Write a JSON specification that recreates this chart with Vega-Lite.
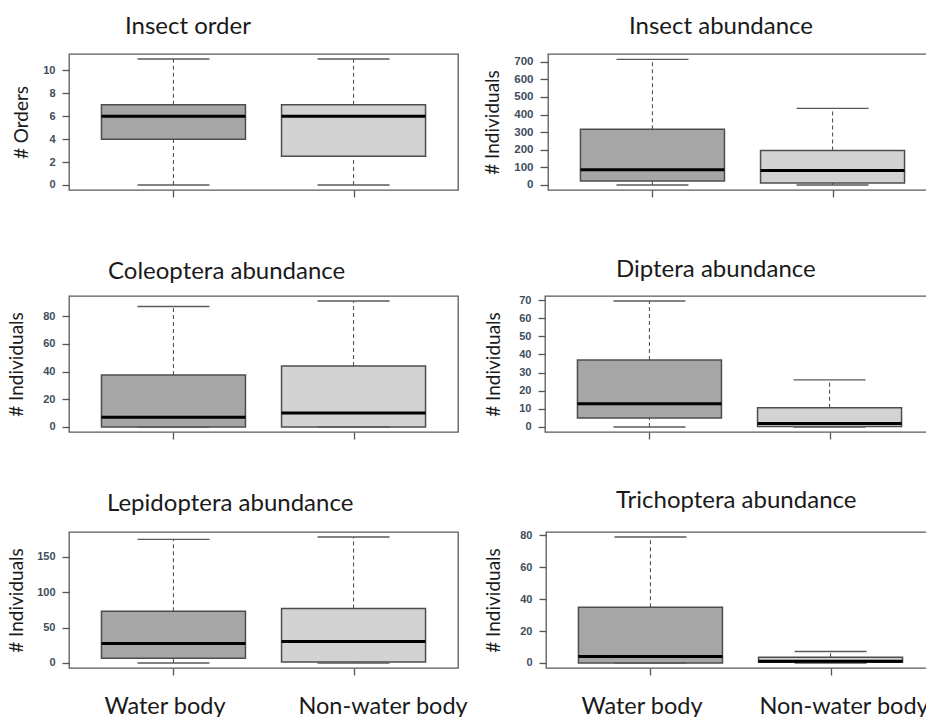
{
  "$schema": "https://vega.github.io/schema/vega-lite/v6.json",
  "background": "white",
  "padding": {"left": 6, "top": 14, "right": 0, "bottom": 0},
  "config": {
    "view": {"stroke": "#5a5a5a", "strokeWidth": 1.3},
    "font": "Lato",
    "axisY": {"labelOverlap": false, "labelFlush": false, "tickCount": 20, "format": "d"}
  },
  "datasets": {
    "box": [
      {"panel": "Insect order", "group": "Water body", "min": 0, "q1": 4, "median": 6, "q3": 7, "max": 11},
      {"panel": "Insect order", "group": "Non-water body", "min": 0, "q1": 2.5, "median": 6, "q3": 7, "max": 11},
      {"panel": "Insect abundance", "group": "Water body", "min": 0, "q1": 23, "median": 87, "q3": 317, "max": 713},
      {"panel": "Insect abundance", "group": "Non-water body", "min": 0, "q1": 11, "median": 82, "q3": 195, "max": 435},
      {"panel": "Coleoptera abundance", "group": "Water body", "min": 0, "q1": 0, "median": 7, "q3": 37.6, "max": 87},
      {"panel": "Coleoptera abundance", "group": "Non-water body", "min": 0, "q1": 0, "median": 10, "q3": 44, "max": 91},
      {"panel": "Diptera abundance", "group": "Water body", "min": 0, "q1": 5, "median": 12.8, "q3": 37, "max": 69.5},
      {"panel": "Diptera abundance", "group": "Non-water body", "min": 0, "q1": 0.2, "median": 1.9, "q3": 10.6, "max": 26},
      {"panel": "Lepidoptera abundance", "group": "Water body", "min": 0, "q1": 6.6, "median": 27.5, "q3": 73, "max": 174.7},
      {"panel": "Lepidoptera abundance", "group": "Non-water body", "min": 0, "q1": 1.4, "median": 30.4, "q3": 76.9, "max": 178},
      {"panel": "Trichoptera abundance", "group": "Water body", "min": 0, "q1": 0, "median": 4, "q3": 35, "max": 79},
      {"panel": "Trichoptera abundance", "group": "Non-water body", "min": 0, "q1": 0.5, "median": 1, "q3": 3.6, "max": 7.2}
    ]
  },
  "data": {"name": "box"},
  "align": "none",
  "vconcat": [
    {
      "align": "none",
      "vconcat": [
        {
          "hconcat": [
            {
              "width": 389, "height": 136,
              "title": {"text": "Insect order", "anchor": "start", "frame": "group", "dx": 56, "offset": -4, "baseline": "alphabetic", "font": "Lato", "fontSize": 24, "fontWeight": "normal", "color": "#1a1a1a"},
              "transform": [{"filter": "datum.panel == 'Insect order'"}],
              "encoding": {"x": {"field": "group", "type": "nominal", "sort": ["Water body", "Non-water body"], "scale": {"type": "point", "padding": 0.58}, "axis": {"title": null, "labels": false, "domain": false, "ticks": true, "tickSize": 7, "tickColor": "#555", "tickWidth": 1.3}}},
              "layer": [
                {"mark": {"type": "rule", "strokeDash": [4, 3], "color": "#555", "strokeWidth": 1.1}, "encoding": {"y": {"field": "min", "type": "quantitative", "title": "# Orders", "scale": {"domain": [-0.44, 11.44], "nice": false, "zero": false}, "axis": {"values": [0, 2, 4, 6, 8, 10], "format": "d", "tickCount": 20, "labelOverlap": false, "grid": false, "domain": false, "tickSize": 7, "tickColor": "#555", "tickWidth": 1.3, "labelPadding": 7, "labelFont": "Liberation Sans", "labelFontSize": 11, "labelFontWeight": "bold", "labelColor": "#3e4d5e", "minExtent": 30, "maxExtent": 30, "titlePadding": 8, "titleFont": "Lato", "titleFontSize": 19, "titleFontWeight": "normal", "titleColor": "#1a1a1a"}}, "y2": {"field": "q1"}}},
                {"mark": {"type": "rule", "strokeDash": [4, 3], "color": "#555", "strokeWidth": 1.1}, "encoding": {"y": {"field": "q3", "type": "quantitative", "title": "# Orders"}, "y2": {"field": "max"}}},
                {"mark": {"type": "bar", "width": 144, "stroke": "#4d4d4d", "strokeWidth": 1.5}, "encoding": {"y": {"field": "q1", "type": "quantitative", "title": "# Orders"}, "y2": {"field": "q3"}, "fill": {"field": "group", "type": "nominal", "scale": {"domain": ["Water body", "Non-water body"], "range": ["#a6a6a6", "#d3d3d3"]}, "legend": null}}},
                {"mark": {"type": "tick", "size": 72, "thickness": 1.4, "color": "#5a5a5a", "opacity": 1}, "encoding": {"y": {"field": "min", "type": "quantitative", "title": "# Orders"}}},
                {"mark": {"type": "tick", "size": 72, "thickness": 1.4, "color": "#5a5a5a", "opacity": 1}, "encoding": {"y": {"field": "max", "type": "quantitative", "title": "# Orders"}}},
                {"mark": {"type": "tick", "size": 144, "thickness": 3, "color": "#000000", "opacity": 1}, "encoding": {"y": {"field": "median", "type": "quantitative", "title": "# Orders"}}}
              ]
            },
            {
              "width": 389, "height": 136,
              "title": {"text": "Insect abundance", "anchor": "start", "frame": "group", "dx": 81, "offset": -4, "baseline": "alphabetic", "font": "Lato", "fontSize": 24, "fontWeight": "normal", "color": "#1a1a1a"},
              "transform": [{"filter": "datum.panel == 'Insect abundance'"}],
              "encoding": {"x": {"field": "group", "type": "nominal", "sort": ["Water body", "Non-water body"], "scale": {"type": "point", "padding": 0.58}, "axis": {"title": null, "labels": false, "domain": false, "ticks": true, "tickSize": 7, "tickColor": "#555", "tickWidth": 1.3}}},
              "layer": [
                {"mark": {"type": "rule", "strokeDash": [4, 3], "color": "#555", "strokeWidth": 1.1}, "encoding": {"y": {"field": "min", "type": "quantitative", "title": "# Individuals", "scale": {"domain": [-28.6, 743.6], "nice": false, "zero": false}, "axis": {"values": [0, 100, 200, 300, 400, 500, 600, 700], "format": "d", "tickCount": 20, "labelOverlap": false, "grid": false, "domain": false, "tickSize": 8, "tickColor": "#555", "tickWidth": 1.3, "labelPadding": 7, "labelFont": "Liberation Sans", "labelFontSize": 11.5, "labelFontWeight": "bold", "labelColor": "#3e4d5e", "minExtent": 30, "maxExtent": 30, "titlePadding": 16, "titleFont": "Lato", "titleFontSize": 19, "titleFontWeight": "normal", "titleColor": "#1a1a1a"}}, "y2": {"field": "q1"}}},
                {"mark": {"type": "rule", "strokeDash": [4, 3], "color": "#555", "strokeWidth": 1.1}, "encoding": {"y": {"field": "q3", "type": "quantitative", "title": "# Individuals"}, "y2": {"field": "max"}}},
                {"mark": {"type": "bar", "width": 144, "stroke": "#4d4d4d", "strokeWidth": 1.5}, "encoding": {"y": {"field": "q1", "type": "quantitative", "title": "# Individuals"}, "y2": {"field": "q3"}, "fill": {"field": "group", "type": "nominal", "scale": {"domain": ["Water body", "Non-water body"], "range": ["#a6a6a6", "#d3d3d3"]}, "legend": null}}},
                {"mark": {"type": "tick", "size": 72, "thickness": 1.4, "color": "#5a5a5a", "opacity": 1}, "encoding": {"y": {"field": "min", "type": "quantitative", "title": "# Individuals"}}},
                {"mark": {"type": "tick", "size": 72, "thickness": 1.4, "color": "#5a5a5a", "opacity": 1}, "encoding": {"y": {"field": "max", "type": "quantitative", "title": "# Individuals"}}},
                {"mark": {"type": "tick", "size": 144, "thickness": 3, "color": "#000000", "opacity": 1}, "encoding": {"y": {"field": "median", "type": "quantitative", "title": "# Individuals"}}}
              ]
            }
          ],
          "spacing": 23
        },
        {
          "hconcat": [
            {
              "width": 389, "height": 136,
              "title": {"text": "Coleoptera abundance", "anchor": "start", "frame": "group", "dx": 39, "offset": -7, "baseline": "alphabetic", "font": "Lato", "fontSize": 24, "fontWeight": "normal", "color": "#1a1a1a"},
              "transform": [{"filter": "datum.panel == 'Coleoptera abundance'"}],
              "encoding": {"x": {"field": "group", "type": "nominal", "sort": ["Water body", "Non-water body"], "scale": {"type": "point", "padding": 0.58}, "axis": {"title": null, "labels": false, "domain": false, "ticks": true, "tickSize": 7, "tickColor": "#555", "tickWidth": 1.3}}},
              "layer": [
                {"mark": {"type": "rule", "strokeDash": [4, 3], "color": "#555", "strokeWidth": 1.1}, "encoding": {"y": {"field": "min", "type": "quantitative", "title": "# Individuals", "scale": {"domain": [-3.64, 94.64], "nice": false, "zero": false}, "axis": {"values": [0, 20, 40, 60, 80], "format": "d", "tickCount": 20, "labelOverlap": false, "grid": false, "domain": false, "tickSize": 7, "tickColor": "#555", "tickWidth": 1.3, "labelPadding": 7, "labelFont": "Liberation Sans", "labelFontSize": 11, "labelFontWeight": "bold", "labelColor": "#3e4d5e", "minExtent": 30, "maxExtent": 30, "titlePadding": 13, "titleFont": "Lato", "titleFontSize": 19, "titleFontWeight": "normal", "titleColor": "#1a1a1a"}}, "y2": {"field": "q1"}}},
                {"mark": {"type": "rule", "strokeDash": [4, 3], "color": "#555", "strokeWidth": 1.1}, "encoding": {"y": {"field": "q3", "type": "quantitative", "title": "# Individuals"}, "y2": {"field": "max"}}},
                {"mark": {"type": "bar", "width": 144, "stroke": "#4d4d4d", "strokeWidth": 1.5}, "encoding": {"y": {"field": "q1", "type": "quantitative", "title": "# Individuals"}, "y2": {"field": "q3"}, "fill": {"field": "group", "type": "nominal", "scale": {"domain": ["Water body", "Non-water body"], "range": ["#a6a6a6", "#d3d3d3"]}, "legend": null}}},
                {"mark": {"type": "tick", "size": 72, "thickness": 1.4, "color": "#5a5a5a", "opacity": 1}, "encoding": {"y": {"field": "min", "type": "quantitative", "title": "# Individuals"}}},
                {"mark": {"type": "tick", "size": 72, "thickness": 1.4, "color": "#5a5a5a", "opacity": 1}, "encoding": {"y": {"field": "max", "type": "quantitative", "title": "# Individuals"}}},
                {"mark": {"type": "tick", "size": 144, "thickness": 3, "color": "#000000", "opacity": 1}, "encoding": {"y": {"field": "median", "type": "quantitative", "title": "# Individuals"}}}
              ]
            },
            {
              "width": 389, "height": 136,
              "title": {"text": "Diptera abundance", "anchor": "start", "frame": "group", "dx": 71, "offset": -7, "baseline": "alphabetic", "font": "Lato", "fontSize": 24, "fontWeight": "normal", "color": "#1a1a1a"},
              "transform": [{"filter": "datum.panel == 'Diptera abundance'"}],
              "encoding": {"x": {"field": "group", "type": "nominal", "sort": ["Water body", "Non-water body"], "scale": {"type": "point", "padding": 0.58}, "axis": {"title": null, "labels": false, "domain": false, "ticks": true, "tickSize": 7, "tickColor": "#555", "tickWidth": 1.3}}},
              "layer": [
                {"mark": {"type": "rule", "strokeDash": [4, 3], "color": "#555", "strokeWidth": 1.1}, "encoding": {"y": {"field": "min", "type": "quantitative", "title": "# Individuals", "scale": {"domain": [-2.78, 72.28], "nice": false, "zero": false}, "axis": {"values": [0, 10, 20, 30, 40, 50, 60, 70], "format": "d", "tickCount": 20, "labelOverlap": false, "grid": false, "domain": false, "tickSize": 7, "tickColor": "#555", "tickWidth": 1.3, "labelPadding": 7, "labelFont": "Liberation Sans", "labelFontSize": 11, "labelFontWeight": "bold", "labelColor": "#3e4d5e", "minExtent": 30, "maxExtent": 30, "titlePadding": 12, "titleFont": "Lato", "titleFontSize": 19, "titleFontWeight": "normal", "titleColor": "#1a1a1a"}}, "y2": {"field": "q1"}}},
                {"mark": {"type": "rule", "strokeDash": [4, 3], "color": "#555", "strokeWidth": 1.1}, "encoding": {"y": {"field": "q3", "type": "quantitative", "title": "# Individuals"}, "y2": {"field": "max"}}},
                {"mark": {"type": "bar", "width": 144, "stroke": "#4d4d4d", "strokeWidth": 1.5}, "encoding": {"y": {"field": "q1", "type": "quantitative", "title": "# Individuals"}, "y2": {"field": "q3"}, "fill": {"field": "group", "type": "nominal", "scale": {"domain": ["Water body", "Non-water body"], "range": ["#a6a6a6", "#d3d3d3"]}, "legend": null}}},
                {"mark": {"type": "tick", "size": 72, "thickness": 1.4, "color": "#5a5a5a", "opacity": 1}, "encoding": {"y": {"field": "min", "type": "quantitative", "title": "# Individuals"}}},
                {"mark": {"type": "tick", "size": 72, "thickness": 1.4, "color": "#5a5a5a", "opacity": 1}, "encoding": {"y": {"field": "max", "type": "quantitative", "title": "# Individuals"}}},
                {"mark": {"type": "tick", "size": 144, "thickness": 3, "color": "#000000", "opacity": 1}, "encoding": {"y": {"field": "median", "type": "quantitative", "title": "# Individuals"}}}
              ]
            }
          ],
          "spacing": 24
        }
      ],
      "spacing": 58
    },
    {
      "hconcat": [
        {
          "width": 389, "height": 136,
          "title": {"text": "Lepidoptera abundance", "anchor": "start", "frame": "group", "dx": 38, "offset": -3, "baseline": "alphabetic", "font": "Lato", "fontSize": 24, "fontWeight": "normal", "color": "#1a1a1a"},
          "transform": [{"filter": "datum.panel == 'Lepidoptera abundance'"}],
          "encoding": {"x": {"field": "group", "type": "nominal", "sort": ["Water body", "Non-water body"], "scale": {"type": "point", "padding": 0.58}, "axis": {"title": null, "labels": true, "domain": false, "ticks": true, "tickSize": 7, "tickColor": "#555", "tickWidth": 1.3, "labelFont": "Lato", "labelFontSize": 23.5, "labelColor": "#1a1a1a", "labelPadding": 19, "labelAngle": 0, "labelOffset": {"condition": {"test": "datum.value == 'Water body'", "value": -9}, "value": 29}}}},
          "layer": [
            {"mark": {"type": "rule", "strokeDash": [4, 3], "color": "#555", "strokeWidth": 1.1}, "encoding": {"y": {"field": "min", "type": "quantitative", "title": "# Individuals", "scale": {"domain": [-7.1, 185.1], "nice": false, "zero": false}, "axis": {"values": [0, 50, 100, 150], "format": "d", "tickCount": 20, "labelOverlap": false, "grid": false, "domain": false, "tickSize": 7, "tickColor": "#555", "tickWidth": 1.3, "labelPadding": 7, "labelFont": "Liberation Sans", "labelFontSize": 11, "labelFontWeight": "bold", "labelColor": "#3e4d5e", "minExtent": 30, "maxExtent": 30, "titlePadding": 13, "titleFont": "Lato", "titleFontSize": 19, "titleFontWeight": "normal", "titleColor": "#1a1a1a"}}, "y2": {"field": "q1"}}},
            {"mark": {"type": "rule", "strokeDash": [4, 3], "color": "#555", "strokeWidth": 1.1}, "encoding": {"y": {"field": "q3", "type": "quantitative", "title": "# Individuals"}, "y2": {"field": "max"}}},
            {"mark": {"type": "bar", "width": 144, "stroke": "#4d4d4d", "strokeWidth": 1.5}, "encoding": {"y": {"field": "q1", "type": "quantitative", "title": "# Individuals"}, "y2": {"field": "q3"}, "fill": {"field": "group", "type": "nominal", "scale": {"domain": ["Water body", "Non-water body"], "range": ["#a6a6a6", "#d3d3d3"]}, "legend": null}}},
            {"mark": {"type": "tick", "size": 72, "thickness": 1.4, "color": "#5a5a5a", "opacity": 1}, "encoding": {"y": {"field": "min", "type": "quantitative", "title": "# Individuals"}}},
            {"mark": {"type": "tick", "size": 72, "thickness": 1.4, "color": "#5a5a5a", "opacity": 1}, "encoding": {"y": {"field": "max", "type": "quantitative", "title": "# Individuals"}}},
            {"mark": {"type": "tick", "size": 144, "thickness": 3, "color": "#000000", "opacity": 1}, "encoding": {"y": {"field": "median", "type": "quantitative", "title": "# Individuals"}}}
          ]
        },
        {
          "width": 389, "height": 136,
          "title": {"text": "Trichoptera abundance", "anchor": "start", "frame": "group", "dx": 70, "offset": -3, "baseline": "alphabetic", "font": "Lato", "fontSize": 24, "fontWeight": "normal", "color": "#1a1a1a"},
          "transform": [{"filter": "datum.panel == 'Trichoptera abundance'"}],
          "encoding": {"x": {"field": "group", "type": "nominal", "sort": ["Water body", "Non-water body"], "scale": {"type": "point", "padding": 0.58}, "axis": {"title": null, "labels": true, "domain": false, "ticks": true, "tickSize": 7, "tickColor": "#555", "tickWidth": 1.3, "labelFont": "Lato", "labelFontSize": 23.5, "labelColor": "#1a1a1a", "labelPadding": 19, "labelAngle": 0, "labelOffset": {"condition": {"test": "datum.value == 'Water body'", "value": -9}, "value": 13}}}},
          "layer": [
            {"mark": {"type": "rule", "strokeDash": [4, 3], "color": "#555", "strokeWidth": 1.1}, "encoding": {"y": {"field": "min", "type": "quantitative", "title": "# Individuals", "scale": {"domain": [-3.16, 82.16], "nice": false, "zero": false}, "axis": {"values": [0, 20, 40, 60, 80], "format": "d", "tickCount": 20, "labelOverlap": false, "grid": false, "domain": false, "tickSize": 7, "tickColor": "#555", "tickWidth": 1.3, "labelPadding": 7, "labelFont": "Liberation Sans", "labelFontSize": 11, "labelFontWeight": "bold", "labelColor": "#3e4d5e", "minExtent": 30, "maxExtent": 30, "titlePadding": 13, "titleFont": "Lato", "titleFontSize": 19, "titleFontWeight": "normal", "titleColor": "#1a1a1a"}}, "y2": {"field": "q1"}}},
            {"mark": {"type": "rule", "strokeDash": [4, 3], "color": "#555", "strokeWidth": 1.1}, "encoding": {"y": {"field": "q3", "type": "quantitative", "title": "# Individuals"}, "y2": {"field": "max"}}},
            {"mark": {"type": "bar", "width": 144, "stroke": "#4d4d4d", "strokeWidth": 1.5}, "encoding": {"y": {"field": "q1", "type": "quantitative", "title": "# Individuals"}, "y2": {"field": "q3"}, "fill": {"field": "group", "type": "nominal", "scale": {"domain": ["Water body", "Non-water body"], "range": ["#a6a6a6", "#d3d3d3"]}, "legend": null}}},
            {"mark": {"type": "tick", "size": 72, "thickness": 1.4, "color": "#5a5a5a", "opacity": 1}, "encoding": {"y": {"field": "min", "type": "quantitative", "title": "# Individuals"}}},
            {"mark": {"type": "tick", "size": 72, "thickness": 1.4, "color": "#5a5a5a", "opacity": 1}, "encoding": {"y": {"field": "max", "type": "quantitative", "title": "# Individuals"}}},
            {"mark": {"type": "tick", "size": 144, "thickness": 3, "color": "#000000", "opacity": 1}, "encoding": {"y": {"field": "median", "type": "quantitative", "title": "# Individuals"}}}
          ]
        }
      ],
      "spacing": 14
    }
  ],
  "spacing": 47
}
